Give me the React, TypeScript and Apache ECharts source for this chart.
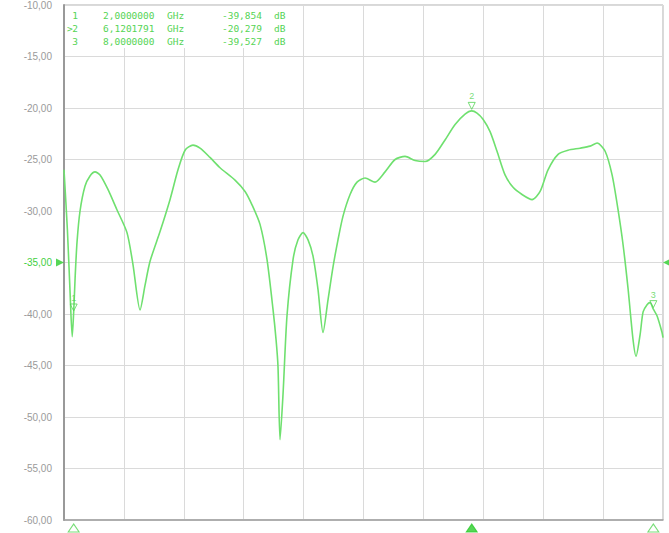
import React, { useEffect, useRef } from "react";
import * as echarts from "echarts";

// Sweep (GHz) and reference level
const START_GHZ = 1.9;
const STOP_GHZ = 8.1;
const DIVISIONS = 10;
const REF_LEVEL_DB = -35;
const Y_MIN = -60;
const Y_MAX = -10;
const Y_STEP = 5;

// Trace
const freqGHz = [
  1.9, 1.935, 1.962, 1.985, 2.0, 2.015, 2.035, 2.066, 2.117, 2.169, 2.221, 2.273, 2.355, 2.449, 2.552,
  2.614, 2.687, 2.739, 2.79, 2.894, 2.997, 3.08, 3.153, 3.235, 3.308, 3.411, 3.515, 3.67, 3.774, 3.846,
  3.929, 4.001, 4.064, 4.095, 4.115, 4.136, 4.167, 4.208, 4.271, 4.322, 4.374, 4.426, 4.478, 4.529,
  4.581, 4.633, 4.685, 4.736, 4.788, 4.861, 4.933, 5.016, 5.119, 5.223, 5.327, 5.43, 5.534, 5.637,
  5.741, 5.844, 5.948, 6.051, 6.12, 6.175, 6.237, 6.31, 6.382, 6.465, 6.548, 6.641, 6.745, 6.828,
  6.91, 7.014, 7.117, 7.242, 7.345, 7.418, 7.501, 7.573, 7.635, 7.687, 7.739, 7.79, 7.821, 7.863,
  7.894, 7.935, 7.966, 8.0, 8.039, 8.09, 8.1,
];
const traceDb = [
  -26.0, -31.8, -37.7, -42.2, -39.85, -36.5, -33.0, -30.0, -27.6, -26.6, -26.2, -26.5, -27.9, -29.9, -32.1,
  -35.2, -39.6, -37.2, -34.9, -32.0, -28.9, -26.0, -24.1, -23.6, -23.9, -24.8, -25.8, -27.0, -28.1, -29.4,
  -31.3, -34.7, -39.6, -42.5, -45.1, -52.2, -47.8, -40.2, -34.7, -32.8, -32.1, -32.8, -34.4, -37.6,
  -41.8, -38.6, -35.4, -32.8, -30.5, -28.4, -27.2, -26.8, -27.2, -26.2, -25.0, -24.7, -25.1, -25.2,
  -24.5, -23.1, -21.6, -20.6, -20.28, -20.5, -21.1, -22.3, -24.2, -26.5, -27.7, -28.4, -28.9, -28.1,
  -26.0, -24.5, -24.1, -23.9, -23.7, -23.4, -24.2, -26.5, -29.9, -33.3, -37.6, -42.5, -44.1, -42.0,
  -39.8, -39.1, -38.9, -39.53, -40.2, -41.8, -42.3,
];

// Markers
const markerIds = ["1", "2", "3"];
const markerFreqGHz = [2.0, 6.1201791, 8.0];
const markerFreqText = ["2,0000000", "6,1201791", "8,0000000"];
const markerDb = [-39.854, -20.279, -39.527];
const markerDbText = ["-39,854", "-20,279", "-39,527"];
const activeMarker = 1;

const GREEN = "#6fe06f";
const TEXT_GREEN = "#55d455";

const toDiv = (f: number) => ((f - START_GHZ) / (STOP_GHZ - START_GHZ)) * DIVISIONS;

export default function App() {
  const ref = useRef<HTMLDivElement>(null);
  useEffect(() => {
    if (!ref.current) return;
    const chart = echarts.init(ref.current, null, { renderer: "svg" });
    const font = "'Liberation Sans', Arial, sans-serif";
    const mono = "'DejaVu Sans Mono', 'Liberation Mono', monospace";

    const rows: any[] = [];
    markerIds.forEach((id, i) => {
      const y = 15 + i * 13;
      const common = { fill: TEXT_GREEN, fontSize: 9.5, fontFamily: mono, verticalAlign: "middle" };
      if (i === activeMarker) {
        rows.push({ type: "text", x: 67, y, style: { ...common, text: ">", align: "left" } });
      }
      rows.push({ type: "text", x: 75, y, style: { ...common, text: id, align: "center" } });
      rows.push({ type: "text", x: 103, y, style: { ...common, text: markerFreqText[i], align: "left" } });
      rows.push({ type: "text", x: 167, y, style: { ...common, text: "GHz", align: "left" } });
      rows.push({ type: "text", x: 262, y, style: { ...common, text: markerDbText[i], align: "right" } });
      rows.push({ type: "text", x: 274, y, style: { ...common, text: "dB", align: "left" } });
    });

    chart.setOption({
      animation: false,
      backgroundColor: "#ffffff",
      grid: { left: 64, right: 6, top: 5, bottom: 13, show: true, borderColor: "#b0b0b0", borderWidth: 1 },
      xAxis: {
        type: "value",
        min: 0,
        max: DIVISIONS,
        interval: 1,
        axisLabel: { show: false },
        axisTick: { show: false },
        axisLine: { show: true, onZero: false, lineStyle: { color: "#a0a0a0", width: 1.5 } },
        splitLine: { show: true, lineStyle: { color: "#dadada", width: 1 } },
      },
      yAxis: {
        type: "value",
        min: Y_MIN,
        max: Y_MAX,
        interval: Y_STEP,
        axisTick: { show: false },
        axisLine: { show: true, onZero: false, lineStyle: { color: "#999999", width: 2 } },
        splitLine: { show: true, lineStyle: { color: "#dadada", width: 1 } },
        axisLabel: {
          margin: 12,
          fontSize: 10,
          fontFamily: font,
          color: "#9a9a9a",
          formatter: (v: number) => {
            const s = v.toFixed(2).replace(".", ",");
            return v === REF_LEVEL_DB ? `{g|${s}}` : s;
          },
          rich: { g: { color: "#3fcf3f", fontSize: 10, fontFamily: font } },
        },
      },
      graphic: [
        { type: "rect", shape: { x: 66, y: 6, width: 232, height: 42 }, style: { fill: "#ffffff" }, z: 10 },
        ...rows.map((r) => ({ ...r, z: 11 })),
      ],
      series: [
        {
          type: "line",
          data: freqGHz.map((f, i) => [toDiv(f), traceDb[i]]),
          showSymbol: false,
          smooth: 0.25,
          lineStyle: { color: GREEN, width: 1.6 },
          z: 3,
        },
        {
          type: "scatter",
          clip: false,
          data: markerFreqGHz.map((f, i) => ({ value: [toDiv(f), markerDb[i]], name: markerIds[i] })),
          symbol: "triangle",
          symbolRotate: 180,
          symbolSize: 7,
          symbolOffset: [0, -5],
          itemStyle: { color: "rgba(255,255,255,0)", borderColor: TEXT_GREEN, borderWidth: 1 },
          label: {
            show: true,
            position: "top",
            distance: 1,
            formatter: (p: any) => p.name,
            color: TEXT_GREEN,
            fontSize: 9,
            fontFamily: font,
          },
          z: 4,
        },
        {
          type: "scatter",
          clip: false,
          data: markerFreqGHz.map((f, i) => ({
            value: [toDiv(f), Y_MIN],
            itemStyle:
              i === activeMarker
                ? { color: "#2ccc2c", borderColor: "#2ccc2c", borderWidth: 1 }
                : { color: "rgba(255,255,255,0)", borderColor: TEXT_GREEN, borderWidth: 1 },
          })),
          symbol: "triangle",
          symbolSize: [11, 8],
          symbolOffset: [0, 8],
          z: 5,
        },
        {
          type: "scatter",
          clip: false,
          data: [
            { value: [0, REF_LEVEL_DB], symbolRotate: -90, symbolOffset: [-4, 0] },
            { value: [DIVISIONS, REF_LEVEL_DB], symbolRotate: 90, symbolOffset: [4, 0] },
          ],
          symbol: "triangle",
          symbolSize: 8,
          itemStyle: { color: "#2ccc2c" },
          z: 5,
        },
      ],
    });
    return () => chart.dispose();
  }, []);
  return <div ref={ref} style={{ width: 669, height: 533, position: "fixed", left: 0, top: 0 }} />;
}
